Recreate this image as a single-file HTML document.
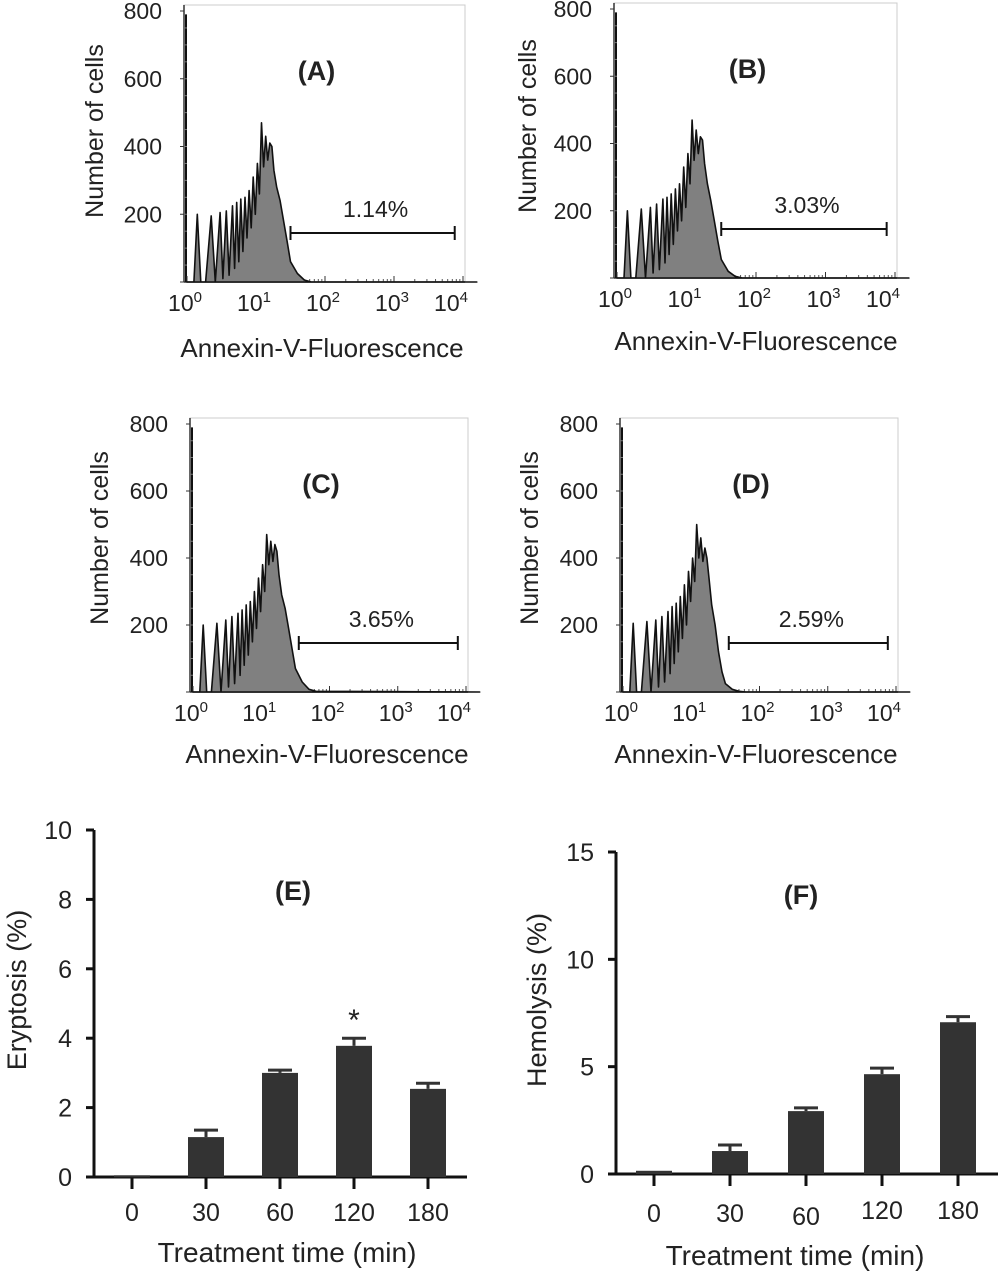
<!DOCTYPE html>
<html><head><meta charset="utf-8"><style>
body{margin:0;background:#fff;}
svg text{font-family:"Liberation Sans",sans-serif;fill:#222;}
</style></head><body>
<svg id="fig" width="1000" height="1277" viewBox="0 0 1000 1277" xmlns="http://www.w3.org/2000/svg"></svg>
<script>
// Histogram data (log10 fluorescence channel, counts)
const histLogs = [0,0.1,0.15,0.2,0.27,0.35,0.41,0.48,0.52,0.57,0.61,0.66,0.69,0.72,0.75,0.78,0.81,0.84,0.87,0.9,0.93,0.96,0.99,1.02,1.05,1.08,1.11,1.14,1.17,1.2,1.23,1.26,1.3,1.35,1.4,1.45,1.5,1.6,1.7,1.8,4.2];
const countsA = [0,0,200,0,0,195,0,205,10,210,20,225,40,235,60,245,90,250,130,270,160,310,200,350,260,470,340,430,360,410,400,330,280,240,180,120,60,25,6,0,0];
const countsB = [0,0,200,0,0,205,0,210,15,220,25,235,45,240,70,250,100,265,140,280,170,330,210,370,280,470,350,440,370,420,410,340,280,230,170,110,55,20,5,0,0];
const countsC = [0,0,200,0,0,205,0,215,15,225,25,235,50,245,80,260,110,270,150,300,190,340,240,380,300,470,380,450,390,440,420,350,290,250,190,130,70,30,8,2,0];
const countsD = [0,0,205,0,0,210,0,215,15,225,30,240,55,255,85,265,120,285,160,320,200,360,270,400,330,500,400,460,390,430,400,340,260,200,120,60,25,8,2,0,0];
const histTicks = [0,200,400,600,800];
const gateStartLog = [1.5,1.5,1.55,1.55];
const gateEndLog = [3.88,3.88,3.88,3.88];
const gateLabels = ["1.14%","3.03%","3.65%","2.59%"];
const panelLetters = ["(A)","(B)","(C)","(D)"];
// Bar charts
const timeCats = ["0","30","60","120","180"];
const eryptosis = [0.05,1.15,3.0,3.78,2.54];
const eryptosisErr = [0,0.2,0.08,0.22,0.16];
const eryTicks = [0,2,4,6,8,10];
const hemolysis = [0.15,1.07,2.93,4.65,7.07];
const hemolysisErr = [0,0.28,0.15,0.28,0.26];
const hemTicks = [0,5,10,15];

const NS="http://www.w3.org/2000/svg";
const svg=document.getElementById('fig');
function mk(tag,attrs,parent,text){const e=document.createElementNS(NS,tag);for(const k in attrs)e.setAttribute(k,attrs[k]);if(text!==undefined)e.textContent=text;(parent||svg).appendChild(e);return e;}

const panels=[
 {L:184,T:5,R:465,B:282,counts:countsA,yt:[95,123],xt:[322,350]},
 {L:614,T:3,R:897,B:278,counts:countsB,yt:[528,118],xt:[756,343]},
 {L:190,T:418,R:468,B:692,counts:countsC,yt:[100,530],xt:[327,756]},
 {L:620,T:418,R:898,B:692,counts:countsD,yt:[530,530],xt:[756,756]}
];
panels.forEach((p,i)=>{
 const g=mk('g',{});
 
 
 const x0=p.L+3, dec=(p.R-2-x0)/4;
 const X=l=>x0+l*dec;
 const Y=c=>p.B-c*(p.B-p.T-6)/800;
 const fr=mk('rect',{x:p.L,y:p.T,width:p.R-p.L,height:p.B-p.T,fill:'none',stroke:'#ccc','stroke-width':1},g);
 
 mk('line',{x1:p.L,y1:p.T,x2:p.L,y2:p.B,stroke:'#333','stroke-width':1.5},g);
 mk('line',{x1:p.L,y1:p.B,x2:p.R,y2:p.B,stroke:'#333','stroke-width':1.5},g);
 mk('line',{x1:p.L+2,y1:Y(790),x2:p.L+2,y2:p.B,stroke:'#111','stroke-width':2},g);
 histTicks.forEach(t=>{
  mk('line',{x1:p.L-4,y1:Y(t),x2:p.L,y2:Y(t),stroke:'#333'},g);
  if(t>0){const tx=mk('text',{x:p.L-22,y:Y(t)+8,'text-anchor':'end','font-size':23},g,String(t));
   }
 });
 for(let t=50;t<800;t+=50){mk('line',{x1:p.L,y1:Y(t),x2:p.L+3,y2:Y(t),stroke:'#777'},g);}
 for(let d=0;d<=4;d++){
  mk('line',{x1:X(d),y1:p.B,x2:X(d),y2:p.B-6,stroke:'#333'},g);
  if(d<4)for(let m=2;m<10;m++){const xx=X(d+Math.log10(m));mk('line',{x1:xx,y1:p.B,x2:xx,y2:p.B-3,stroke:'#555'},g);}
  const tx=mk('text',{x:X(d)-(d==4?12:2),y:p.B+29,'text-anchor':'middle','font-size':23},g);
  
  tx.textContent='10';mk('tspan',{dy:-9,'font-size':15},tx,String(d));
 }
 let d='M'+X(histLogs[0])+','+p.B;
 histLogs.forEach((l,k)=>{d+=' L'+X(l).toFixed(1)+','+Y(p.counts[k]).toFixed(1);});
 d+=' L'+X(histLogs[histLogs.length-1])+','+p.B+' Z';
 const h=mk('path',{d:d,fill:'#808080',stroke:'#111','stroke-width':1.6,'stroke-linejoin':'round'},g);
 
 const gy=p.B-49, gx1=X(gateStartLog[i]), gx2=X(gateEndLog[i]);
 const gt=mk('g',{},g);
 mk('line',{x1:gx1,y1:gy,x2:gx2,y2:gy,stroke:'#111','stroke-width':2},gt);
 mk('line',{x1:gx1,y1:gy-7,x2:gx1,y2:gy+7,stroke:'#111','stroke-width':2},gt);
 mk('line',{x1:gx2,y1:gy-7,x2:gx2,y2:gy+7,stroke:'#111','stroke-width':2},gt);
 const gl=mk('text',{x:(gx1+gx2)/2+3,y:gy-16,'text-anchor':'middle','font-size':23},g,gateLabels[i]);
 
 const pl=mk('text',{x:(p.L+p.R)/2-8,y:p.T+75,'text-anchor':'middle','font-size':27,'font-weight':'bold'},g,panelLetters[i]);
 
 const yt=mk('text',{x:p.yt[0],y:p.yt[1],'text-anchor':'middle','font-size':25,transform:'rotate(-90 '+(p.yt[0]+8)+' '+p.yt[1]+')'},g,'Number of cells');
 
 const xt=mk('text',{x:p.xt[0],y:p.xt[1]+7,'text-anchor':'middle','font-size':26},g,'Annexin-V-Fluorescence');
 
});

function barChart(cfg){
 const g=mk('g',{});
 
 
 const Y=v=>cfg.y0-(v/cfg.max)*(cfg.y0-cfg.yTop);
 const X=k=>cfg.x0c+k*cfg.step;
 mk('line',{x1:cfg.ax,y1:cfg.yTop,x2:cfg.ax,y2:cfg.y0+1.5,stroke:'#111','stroke-width':3},g);
 mk('line',{x1:cfg.ax,y1:cfg.y0,x2:cfg.xEnd,y2:cfg.y0,stroke:'#111','stroke-width':3},g);
 cfg.ticks.forEach(t=>{
  mk('line',{x1:cfg.ax-8,y1:Y(t),x2:cfg.ax,y2:Y(t),stroke:'#111','stroke-width':3},g);
  const tx=mk('text',{x:cfg.ax-22,y:Y(t)+9,'text-anchor':'end','font-size':25},g,String(t));
  
 });
 cfg.vals.forEach((v,k)=>{
  const x=X(k);
  mk('line',{x1:x,y1:cfg.y0,x2:x,y2:cfg.y0+12,stroke:'#111','stroke-width':3},g);
  const tx=mk('text',{x:x,y:cfg.y0+(cfg.lblY[k]),'text-anchor':'middle','font-size':25},g,timeCats[k]);
  
  const top=Y(v);
  if(cfg.err[k]>0){const et=Y(v+cfg.err[k]);
   const eb=mk('g',{},g);
   mk('line',{x1:x,y1:top,x2:x,y2:et,stroke:'#333','stroke-width':3},eb);
   mk('line',{x1:x-12,y1:et,x2:x+12,y2:et,stroke:'#333','stroke-width':3},eb);}
  const r=mk('rect',{x:x-18,y:top,width:36,height:Math.max(cfg.y0-top,2),fill:'#333'},g);
  
 });
 if(cfg.star!==undefined){const k=cfg.star;const s=mk('text',{x:X(k),y:Y(cfg.vals[k]+cfg.err[k])-8,'text-anchor':'middle','font-size':30},g,'*');
  }
 const pl=mk('text',{x:cfg.letterX,y:cfg.letterY,'text-anchor':'middle','font-size':27,'font-weight':'bold'},g,cfg.letter);
 
 const yt=mk('text',{x:cfg.ytX,y:cfg.ytY,'text-anchor':'middle','font-size':27,transform:'rotate(-90 '+cfg.ytX+' '+cfg.ytY+')'},g,cfg.ytitle);
 
 const xt=mk('text',{x:cfg.xtX,y:cfg.xtY,'text-anchor':'middle','font-size':28},g,'Treatment time (min)');
 
}
barChart({name:'eryptosis-bar-chart',vals:eryptosis,err:eryptosisErr,ticks:eryTicks,max:10,ax:94,yTop:830,y0:1177,x0c:132,step:74,xEnd:467,
 lblY:[44,44,44,44,44],star:3,letter:'(E)',letterX:293,letterY:900,ytitle:'Eryptosis (%)',ytX:26,ytY:990,xtX:287,xtY:1262});
barChart({name:'hemolysis-bar-chart',vals:hemolysis,err:hemolysisErr,ticks:hemTicks,max:15,ax:616,yTop:852,y0:1174,x0c:654,step:76,xEnd:998,
 lblY:[48,48,51,45,45],letter:'(F)',letterX:801,letterY:904,ytitle:'Hemolysis (%)',ytX:546,ytY:1000,xtX:795,xtY:1265});
</script>
</body></html>
